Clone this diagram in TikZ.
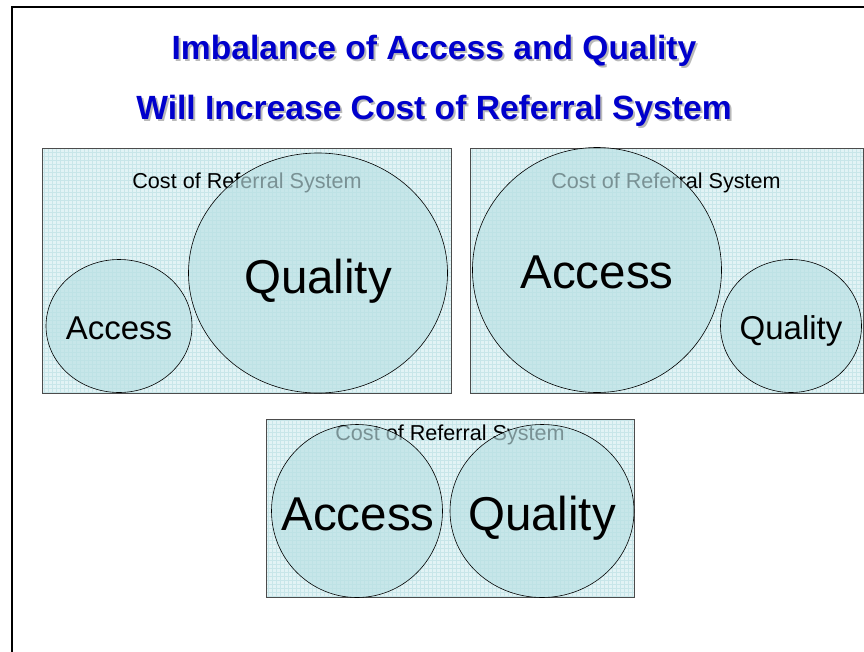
\documentclass[tikz,border=0pt]{standalone}
\usepackage{fontspec}
\setmainfont{Liberation Sans}
\usetikzlibrary{shapes.geometric}
\definecolor{titleblue}{RGB}{0,0,204}
\definecolor{gridbg}{RGB}{226,243,245}
\definecolor{gridline}{RGB}{200,230,233}
\definecolor{bubblefill}{RGB}{186,224,228}
\tikzset{
  panel/.style={draw=gray!60!black,line width=0.8pt},
  bubble/.style={ellipse,draw=black,fill=bubblefill,fill opacity=0.65,inner sep=0pt,line width=0.6pt},
  headline/.style={anchor=base,font=\bfseries\fontsize{33.6}{38}\selectfont,text=titleblue},
  headshadow/.style={anchor=base,font=\bfseries\fontsize{33.6}{38}\selectfont,text=gray!55},
  costlabel/.style={anchor=base,font=\fontsize{21.6}{24}\selectfont},
  biglabel/.style={anchor=base,font=\fontsize{47.5}{50}\selectfont},
  smalllabel/.style={anchor=base,font=\fontsize{33}{36}\selectfont}
}
\begin{document}
\begin{tikzpicture}[x=1pt,y=-1pt]
  \useasboundingbox (0,0) rectangle (864,651);
  \draw[line width=2pt] (12,660) -- (12,7) -- (880,7);
  \node[headshadow] (t1s) at (436,61) {Imbalance of Access and Quality};
  \node[headline] (t1) at (434,59) {Imbalance of Access and Quality};
  \node[headshadow] (t2s) at (436,121) {Will Increase Cost of Referral System};
  \node[headline] (t2) at (434,119) {Will Increase Cost of Referral System};
  \foreach \xa/\ya/\xb/\yb in {42/148/451/393, 470/148/863/393, 266/419/634/597}{
    \fill[gridbg] (\xa,\ya) rectangle (\xb,\yb);
    \draw[gridline,line width=0.3pt,step=4pt] (\xa,\ya) grid (\xb,\yb);
    \draw[panel] (\xa,\ya) rectangle (\xb,\yb);
  }
  \node[costlabel] (c1) at (247,188) {Cost of Referral System};
  \node[costlabel] (c2) at (666,188) {Cost of Referral System};
  \node[costlabel] (c3) at (450,440) {Cost of Referral System};
  \node[bubble,minimum width=146pt,minimum height=133pt] (acc1) at (119,326) {};
  \node[bubble,minimum width=259pt,minimum height=240pt] (qua1) at (318,273) {};
  \node[bubble,minimum width=249pt,minimum height=245pt] (acc2) at (597,270) {};
  \node[bubble,minimum width=141pt,minimum height=133pt] (qua2) at (791,326) {};
  \node[bubble,minimum width=171pt,minimum height=173pt] (acc3) at (357,511) {};
  \node[bubble,minimum width=184pt,minimum height=173pt] (qua3) at (542,511) {};
  \node[smalllabel] at (119,339) {Access};
  \node[biglabel] at (318,293) {Quality};
  \node[biglabel] at (597,288) {Access};
  \node[smalllabel] at (791,339) {Quality};
  \node[biglabel] at (358,530) {Access};
  \node[biglabel] at (542,530) {Quality};
\end{tikzpicture}
\end{document}
